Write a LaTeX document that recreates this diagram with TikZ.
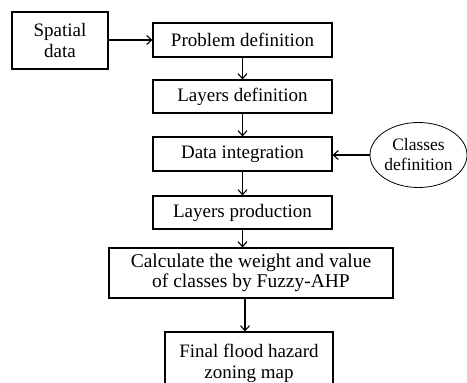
\documentclass[tikz,border=0pt]{standalone}
\usepackage{fontspec}
\setmainfont{Liberation Serif}
\usetikzlibrary{arrows.meta,shapes.geometric}
\begin{document}
\begin{tikzpicture}[x=1pt,y=-1pt,
  box/.style={draw,line width=1.1pt,inner sep=0pt,align=center,
    font=\fontsize{19}{21}\selectfont},
  arr/.style={line width=1.1pt,-{Straight Barb[length=5pt,width=9pt,line width=1.1pt]}}]
\useasboundingbox (0,0) rectangle (467,383);
\clip (0,0) rectangle (467,383);
\node[box,minimum width=96pt,minimum height=57pt] (sd) at (60,40.5) {Spatial\\data};
\node[box,minimum width=179pt,minimum height=34pt] (pd) at (242.5,40) {Problem definition};
\node[box,minimum width=179pt,minimum height=33pt] (ld) at (242.5,96.5) {Layers definition};
\node[box,minimum width=179pt,minimum height=34pt] (di) at (242.5,154) {Data integration};
\node[box,minimum width=179pt,minimum height=33pt] (lp) at (242.5,212.5) {Layers production};
\node[box,minimum width=284pt,minimum height=50pt,font=\fontsize{19.5}{20}\selectfont] (calc) at (251,273) {Calculate the weight and value\\of classes by Fuzzy-AHP};
\node[box,minimum width=168pt,minimum height=62pt] (fin) at (249,363) {Final flood hazard\\zoning map};
\node[draw,ellipse,line width=0.8pt,inner sep=0pt,minimum width=97pt,minimum height=65pt,align=center,
  font=\fontsize{17.5}{20}\selectfont] (cd) at (418.5,155) {Classes\\definition};
\draw[arr] (sd.east |- pd.west) -- (pd.west);
\draw[arr] (pd.south) -- (ld.north);
\draw[arr] (ld.south) -- (di.north);
\draw[arr] (cd.west) -- (cd.west -| di.east);
\draw[arr] (di.south) -- (lp.north);
\draw[arr] (lp.south) -- (lp.south |- calc.north);
\draw[arr] ([xshift=-4pt]fin.north |- calc.south) -- ([xshift=-4pt]fin.north);
\end{tikzpicture}
\end{document}
